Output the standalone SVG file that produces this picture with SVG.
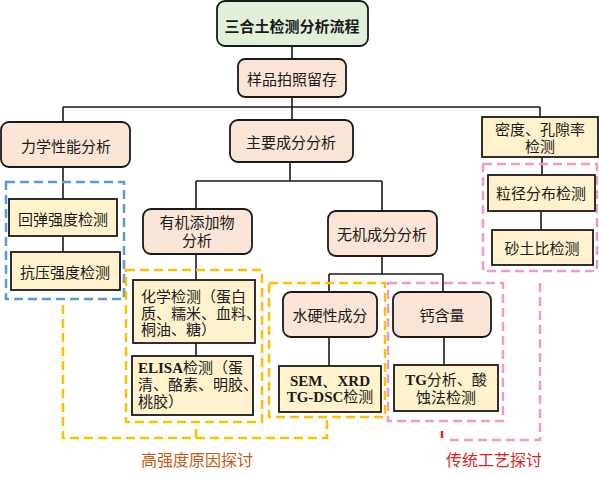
<svg xmlns="http://www.w3.org/2000/svg" width="599" height="478" viewBox="0 0 599 478">
<style>
text{font-family:"Liberation Serif","Noto Sans CJK SC",serif;font-size:15px;fill:#1a1a1a}
.c{text-anchor:middle}
.b{font-weight:bold}
.lat{font-family:"Liberation Serif",serif;font-weight:bold}
.green{fill:#e2efda;stroke:#1a1a1a;stroke-width:1.8}
.peach{fill:#fbe5d6;stroke:#1a1a1a;stroke-width:1.8}
.yel{fill:#fff2cc;stroke:#1a1a1a;stroke-width:1.8}
.ln{fill:none;stroke:#1a1a1a;stroke-width:1.6}
.dy{fill:none;stroke:#ffc000;stroke-width:2.5;stroke-dasharray:9 5}
.db{fill:none;stroke:#5b9bd5;stroke-width:2.5;stroke-dasharray:9 5}
.dp{fill:none;stroke:#f29ac6;stroke-width:2.5;stroke-dasharray:9 5}
</style>
<g id="connectors">
<path class="ln" d="M292,46V59M292,97V120M63,107H540M63,107V122M540,107V117"/>
<path class="ln" d="M63,167V199M63,236V252"/>
<path class="ln" d="M290,162V181M196,181H382M196,181V209M382,181V211"/>
<path class="ln" d="M196,254V280M196,343V356"/>
<path class="ln" d="M382,256V274M329,274H443M329,274V292M443,274V292"/>
<path class="ln" d="M329,337V366M444,337V365"/>
<path class="ln" d="M542,157V175M541,211V230"/>
</g>
<g id="groups">
<rect class="db" x="6" y="182" width="118" height="117"/>
<rect class="dy" x="126" y="270" width="136" height="152"/>
<rect class="dy" x="269" y="283" width="116" height="134"/>
<path class="dy" d="M63,305V438H327V420M196,438V424"/>
<rect class="dp" x="483" y="164" width="114" height="107"/>
<rect class="dp" x="388" y="283" width="115" height="138"/>
<path class="dp" d="M540,283V440H446"/>
<path d="M442,431V438" stroke="#e02020" stroke-width="2.5" fill="none"/>
</g>
<g id="n-root"><rect class="green" x="217" y="1" width="151" height="45" rx="8"/><text class="c b" x="292" y="32">三合土检测分析流程</text></g>
<g id="n-sample"><rect class="peach" x="238" y="59" width="108" height="38" rx="7"/><text class="c" x="292" y="85">样品拍照留存</text></g>
<g id="n-mech"><rect class="peach" x="1" y="122" width="129" height="45" rx="8"/><text class="c" x="66" y="152">力学性能分析</text></g>
<g id="n-main"><rect class="peach" x="230" y="120" width="123" height="42" rx="8"/><text class="c" x="291" y="148">主要成分分析</text></g>
<g id="n-density"><rect class="yel" x="482" y="117" width="116" height="40"/><text class="c" x="540" y="135">密度、孔隙率</text><text class="c" x="540" y="152">检测</text></g>
<g id="n-rebound"><rect class="yel" x="9" y="199" width="108" height="37"/><text class="c" x="63" y="225">回弹强度检测</text></g>
<g id="n-compress"><rect class="yel" x="11" y="252" width="109" height="38"/><text class="c" x="65" y="278">抗压强度检测</text></g>
<g id="n-organic"><rect class="peach" x="143" y="209" width="109" height="45" rx="8"/><text class="c" x="197" y="228">有机添加物</text><text class="c" x="197" y="246">分析</text></g>
<g id="n-inorganic"><rect class="peach" x="328" y="211" width="109" height="45" rx="8"/><text class="c" x="382" y="240">无机成分分析</text></g>
<g id="n-grain"><rect class="yel" x="488" y="175" width="107" height="36"/><text class="c" x="541" y="199">粒径分布检测</text></g>
<g id="n-sand"><rect class="yel" x="492" y="230" width="101" height="35"/><text class="c" x="542" y="254">砂土比检测</text></g>
<g id="n-chem"><rect class="yel" x="133" y="280" width="122" height="63"/><text x="141" y="302">化学检测（蛋白</text><text x="141" y="319">质、糯米、血料、</text><text x="141" y="335">桐油、糖）</text></g>
<g id="n-elisa"><rect class="yel" x="132" y="356" width="121" height="59"/><text x="138" y="373"><tspan class="lat">ELISA</tspan>检测（蛋</text><text x="138" y="390">清、酪素、明胶、</text><text x="138" y="407">桃胶）</text></g>
<g id="n-hydraulic"><rect class="peach" x="283" y="292" width="94" height="45" rx="8"/><text class="c" x="330" y="321">水硬性成分</text></g>
<g id="n-calcium"><rect class="peach" x="393" y="292" width="98" height="45" rx="8"/><text class="c" x="442" y="321">钙含量</text></g>
<g id="n-sem"><rect class="yel" x="279" y="366" width="102" height="46"/><text class="c lat" x="330" y="386">SEM、XRD</text><text class="c" x="330" y="402"><tspan class="lat">TG-DSC</tspan>检测</text></g>
<g id="n-tg"><rect class="yel" x="394" y="365" width="104" height="46"/><text class="c" x="446" y="385"><tspan class="lat">TG</tspan>分析、酸</text><text class="c" x="446" y="403">蚀法检测</text></g>
<g id="labels">
<text class="c" x="197" y="466" style="fill:#c55a11;font-size:16px">高强度原因探讨</text>
<text class="c" x="494" y="466" style="fill:#e02020;font-size:16px">传统工艺探讨</text>
</g>
</svg>
